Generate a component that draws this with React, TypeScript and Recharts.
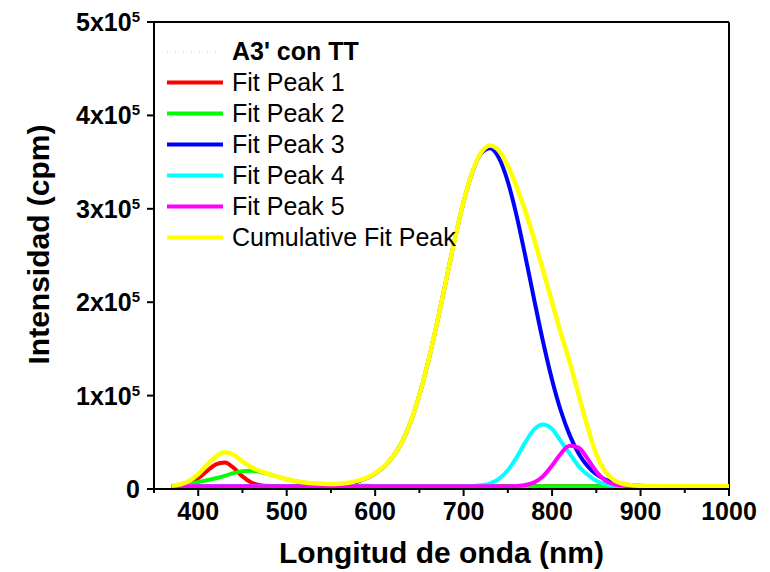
import React from "react";
import { LineChart, Line, XAxis, YAxis, ReferenceLine, Legend, Label } from "recharts";

const FONT = "'Liberation Sans', Arial, Helvetica, sans-serif";

// wavelength (nm)
const wavelength = [
  370, 380, 390, 400, 410, 420, 430, 440, 450, 460, 470, 480, 490, 500, 510, 520,
  530, 540, 550, 560, 570, 580, 590, 600, 610, 620, 630, 640, 650, 660, 670, 680,
  690, 700, 710, 720, 730, 740, 750, 760, 770, 780, 790, 800, 810, 820, 830, 840,
  850, 860, 870, 880, 890, 900, 910, 920, 930, 940, 950, 960, 970, 980, 990, 1000,
];

// intensity (cpm)
const peak1 = [
  3240, 4050, 6450, 11610, 19280, 26340, 28310, 22570, 13480, 6890, 4000, 3180, 3020, 3000, 3000, 3000,
  3000, 3000, 3000, 3000, 3000, 3000, 3000, 3000, 3000, 3000, 3000, 3000, 3000, 3000, 3000, 3000,
  3000, 3000, 3000, 3000, 3000, 3000, 3000, 3000, 3000, 3000, 3000, 3000, 3000, 3000, 3000, 3000,
  3000, 3000, 3000, 3000, 3000, 3000, 3000, 3000, 3000, 3000, 3000, 3000, 3000, 3000, 3000, 3000,
];
const peak2 = [
  3300, 4000, 5300, 7300, 9500, 11500, 14000, 17000, 19000, 19500, 18200, 15800, 13000, 10400, 8300, 6800,
  5800, 5100, 4600, 4200, 3900, 3650, 3450, 3300, 3200, 3130, 3080, 3050, 3030, 3020, 3000, 3000,
  3000, 3000, 3000, 3000, 3000, 3000, 3000, 3000, 3000, 3000, 3000, 3000, 3000, 3000, 3000, 3000,
  3000, 3000, 3000, 3000, 3000, 3000, 3000, 3000, 3000, 3000, 3000, 3000, 3000, 3000, 3000, 3000,
];
const peak3 = [
  3000, 3000, 3000, 3000, 3000, 3000, 3000, 3000, 3000, 3000, 3000, 3000, 3000, 3050, 3100, 3180,
  3300, 3500, 3800, 4500, 5800, 8000, 11500, 16500, 24000, 34500, 49500, 71500, 100700, 136500, 177900, 222600,
  267200, 307600, 339600, 359500, 364800, 354300, 329000, 292200, 248100, 201600, 156800, 116800, 83500, 57400, 38100, 24700,
  15800, 10220, 6900, 5000, 3990, 3470, 3200, 3090, 3000, 3000, 3000, 3000, 3000, 3000, 3000, 3000,
];
const peak4 = [
  3000, 3000, 3000, 3000, 3000, 3000, 3000, 3000, 3000, 3000, 3000, 3000, 3000, 3000, 3000, 3000,
  3000, 3000, 3000, 3000, 3000, 3000, 3000, 3000, 3000, 3000, 3000, 3000, 3000, 3000, 3000, 3000,
  3000, 3060, 3270, 4000, 6050, 10870, 20030, 34000, 50450, 64040, 69000, 64190, 51000, 37850, 24430, 15500,
  8800, 5180, 3775, 3240, 3070, 3000, 3000, 3000, 3000, 3000, 3000, 3000, 3000, 3000, 3000, 3000,
];
const peak5 = [
  3000, 3000, 3000, 3000, 3000, 3000, 3000, 3000, 3000, 3000, 3000, 3000, 3000, 3000, 3000, 3000,
  3000, 3000, 3000, 3000, 3000, 3000, 3000, 3000, 3000, 3000, 3000, 3000, 3000, 3000, 3000, 3000,
  3000, 3000, 3000, 3000, 3000, 3000, 3050, 3290, 4230, 7130, 13820, 25070, 38040, 46330, 44370, 32560,
  18770, 9280, 4870, 3410, 3070, 3000, 3000, 3000, 3000, 3000, 3000, 3000, 3000, 3000, 3000, 3000,
];
const cumulative = [
  3540, 5050, 8750, 15910, 25780, 34840, 39310, 36570, 29480, 23390, 19200, 15980, 13020, 10450, 8400, 6980,
  6100, 5600, 5400, 5700, 6700, 8650, 11950, 16800, 24200, 34630, 49580, 71550, 100730, 136520, 177900, 222600,
  267200, 307660, 339870, 360500, 367850, 362170, 346080, 323490, 296780, 266770, 233620, 200060, 166540, 135580, 100900, 66760,
  37370, 18680, 9545, 5654, 4129, 3470, 3200, 3090, 3000, 3000, 3000, 3000, 3000, 3000, 3000, 3000,
];

const xTicks = [350, 400, 450, 500, 550, 600, 650, 700, 750, 800, 850, 900, 950, 1000];
const yTicks = [0, 100000, 200000, 300000, 400000, 500000];

const seriesKeys = ["p1", "p2", "p3", "p4", "p5", "cum"];
const seriesNames = ["Fit Peak 1", "Fit Peak 2", "Fit Peak 3", "Fit Peak 4", "Fit Peak 5", "Cumulative Fit Peak"];
const seriesColors = ["#ff0000", "#00ff00", "#0000ff", "#00ffff", "#ff00ff", "#ffff00"];

const data = wavelength.map((w, i) => ({
  w,
  p1: peak1[i],
  p2: peak2[i],
  p3: peak3[i],
  p4: peak4[i],
  p5: peak5[i],
  cum: cumulative[i],
}));

const XTick = (props: any) => {
  const { x, y, payload } = props;
  const major = payload.value % 100 === 0;
  return (
    <g>
      <line x1={x} x2={x} y1={y} y2={y + (major ? 7 : 4)} stroke="#000" strokeWidth={2} />
      {major && (
        <text x={x} y={y + 31} textAnchor="middle" fontSize={25} fontWeight="bold" fontFamily={FONT} fill="#000">
          {payload.value}
        </text>
      )}
    </g>
  );
};

const YTick = (props: any) => {
  const { x, y, payload } = props;
  const v = payload.value;
  return (
    <g>
      <line x1={x - 7} x2={x} y1={y} y2={y} stroke="#000" strokeWidth={2} />
      <text x={x - 14} y={y + 9} textAnchor="end" fontSize={25} fontWeight="bold" fontFamily={FONT} fill="#000">
        {v === 0 ? (
          "0"
        ) : (
          <>
            <tspan>{`${v / 100000}x10`}</tspan>
            <tspan dy={-9} fontSize={15}>5</tspan>
          </>
        )}
      </text>
    </g>
  );
};

const LegendBox = () => (
  <div style={{ fontFamily: FONT, fontSize: 25, color: "#000" }}>
    <div style={{ display: "flex", alignItems: "center", height: 31 }}>
      <svg width={56} height={31}>
        <line x1={0} x2={56} y1={15.5} y2={15.5} stroke="#d6f5d6" strokeWidth={3} strokeDasharray="1 7" />
      </svg>
      <span style={{ marginLeft: 9, fontWeight: "bold", lineHeight: "31px" }}>A3' con TT</span>
    </div>
    {seriesNames.map((name, i) => (
      <div key={name} style={{ display: "flex", alignItems: "center", height: 31 }}>
        <svg width={56} height={31}>
          <line x1={0} x2={56} y1={15.5} y2={15.5} stroke={seriesColors[i]} strokeWidth={4} />
        </svg>
        <span style={{ marginLeft: 9, lineHeight: "31px", whiteSpace: "nowrap" }}>{name}</span>
      </div>
    ))}
  </div>
);

export default function App() {
  return (
    <div style={{ position: "absolute", left: 0, top: 0, background: "#fff" }}>
      <LineChart width={770} height={572} data={data} margin={{ top: 22, right: 41, bottom: 0, left: 0 }}>
        <XAxis
          dataKey="w"
          type="number"
          domain={[350, 1000]}
          ticks={xTicks}
          interval={0}
          height={83}
          tickSize={0}
          tickMargin={0}
          tickLine={false}
          axisLine={{ stroke: "#000", strokeWidth: 2 }}
          tick={<XTick />}
        >
          <Label
            content={(p: any) => {
              const vb = p.viewBox || { x: 154, y: 489, width: 575 };
              return (
                <text
                  x={vb.x + vb.width / 2}
                  y={vb.y + 74}
                  textAnchor="middle"
                  fontSize={30}
                  fontWeight="bold"
                  fontFamily={FONT}
                  fill="#000"
                >
                  Longitud de onda (nm)
                </text>
              );
            }}
          />
        </XAxis>
        <YAxis
          type="number"
          domain={[0, 500000]}
          ticks={yTicks}
          interval={0}
          width={154}
          tickSize={0}
          tickMargin={0}
          tickLine={false}
          axisLine={{ stroke: "#000", strokeWidth: 2 }}
          tick={<YTick />}
        >
          <Label
            content={(p: any) => {
              const vb = p.viewBox || { x: 0, y: 22, height: 467 };
              const cx = vb.x + 38;
              const cy = vb.y + vb.height / 2 - 11;
              return (
                <text
                  x={cx}
                  y={cy}
                  transform={`rotate(-90, ${cx}, ${cy})`}
                  textAnchor="middle"
                  dominantBaseline="central"
                  fontSize={30}
                  fontWeight="bold"
                  fontFamily={FONT}
                  fill="#000"
                >
                  Intensidad (cpm)
                </text>
              );
            }}
          />
        </YAxis>
        <ReferenceLine y={500000} stroke="#000" strokeWidth={2} />
        <ReferenceLine x={1000} stroke="#000" strokeWidth={2} />
        {seriesKeys.map((k, i) => (
          <Line
            key={k}
            dataKey={k}
            name={seriesNames[i]}
            type="monotone"
            stroke={seriesColors[i]}
            strokeWidth={i === 5 ? 4.5 : 4}
            dot={false}
            activeDot={false}
            isAnimationActive={false}
          />
        ))}
        <Legend
          layout="vertical"
          align="center"
          verticalAlign="middle"
          content={<LegendBox />}
          wrapperStyle={{ left: 167, top: 36, width: 330, height: 217 }}
        />
      </LineChart>
    </div>
  );
}
